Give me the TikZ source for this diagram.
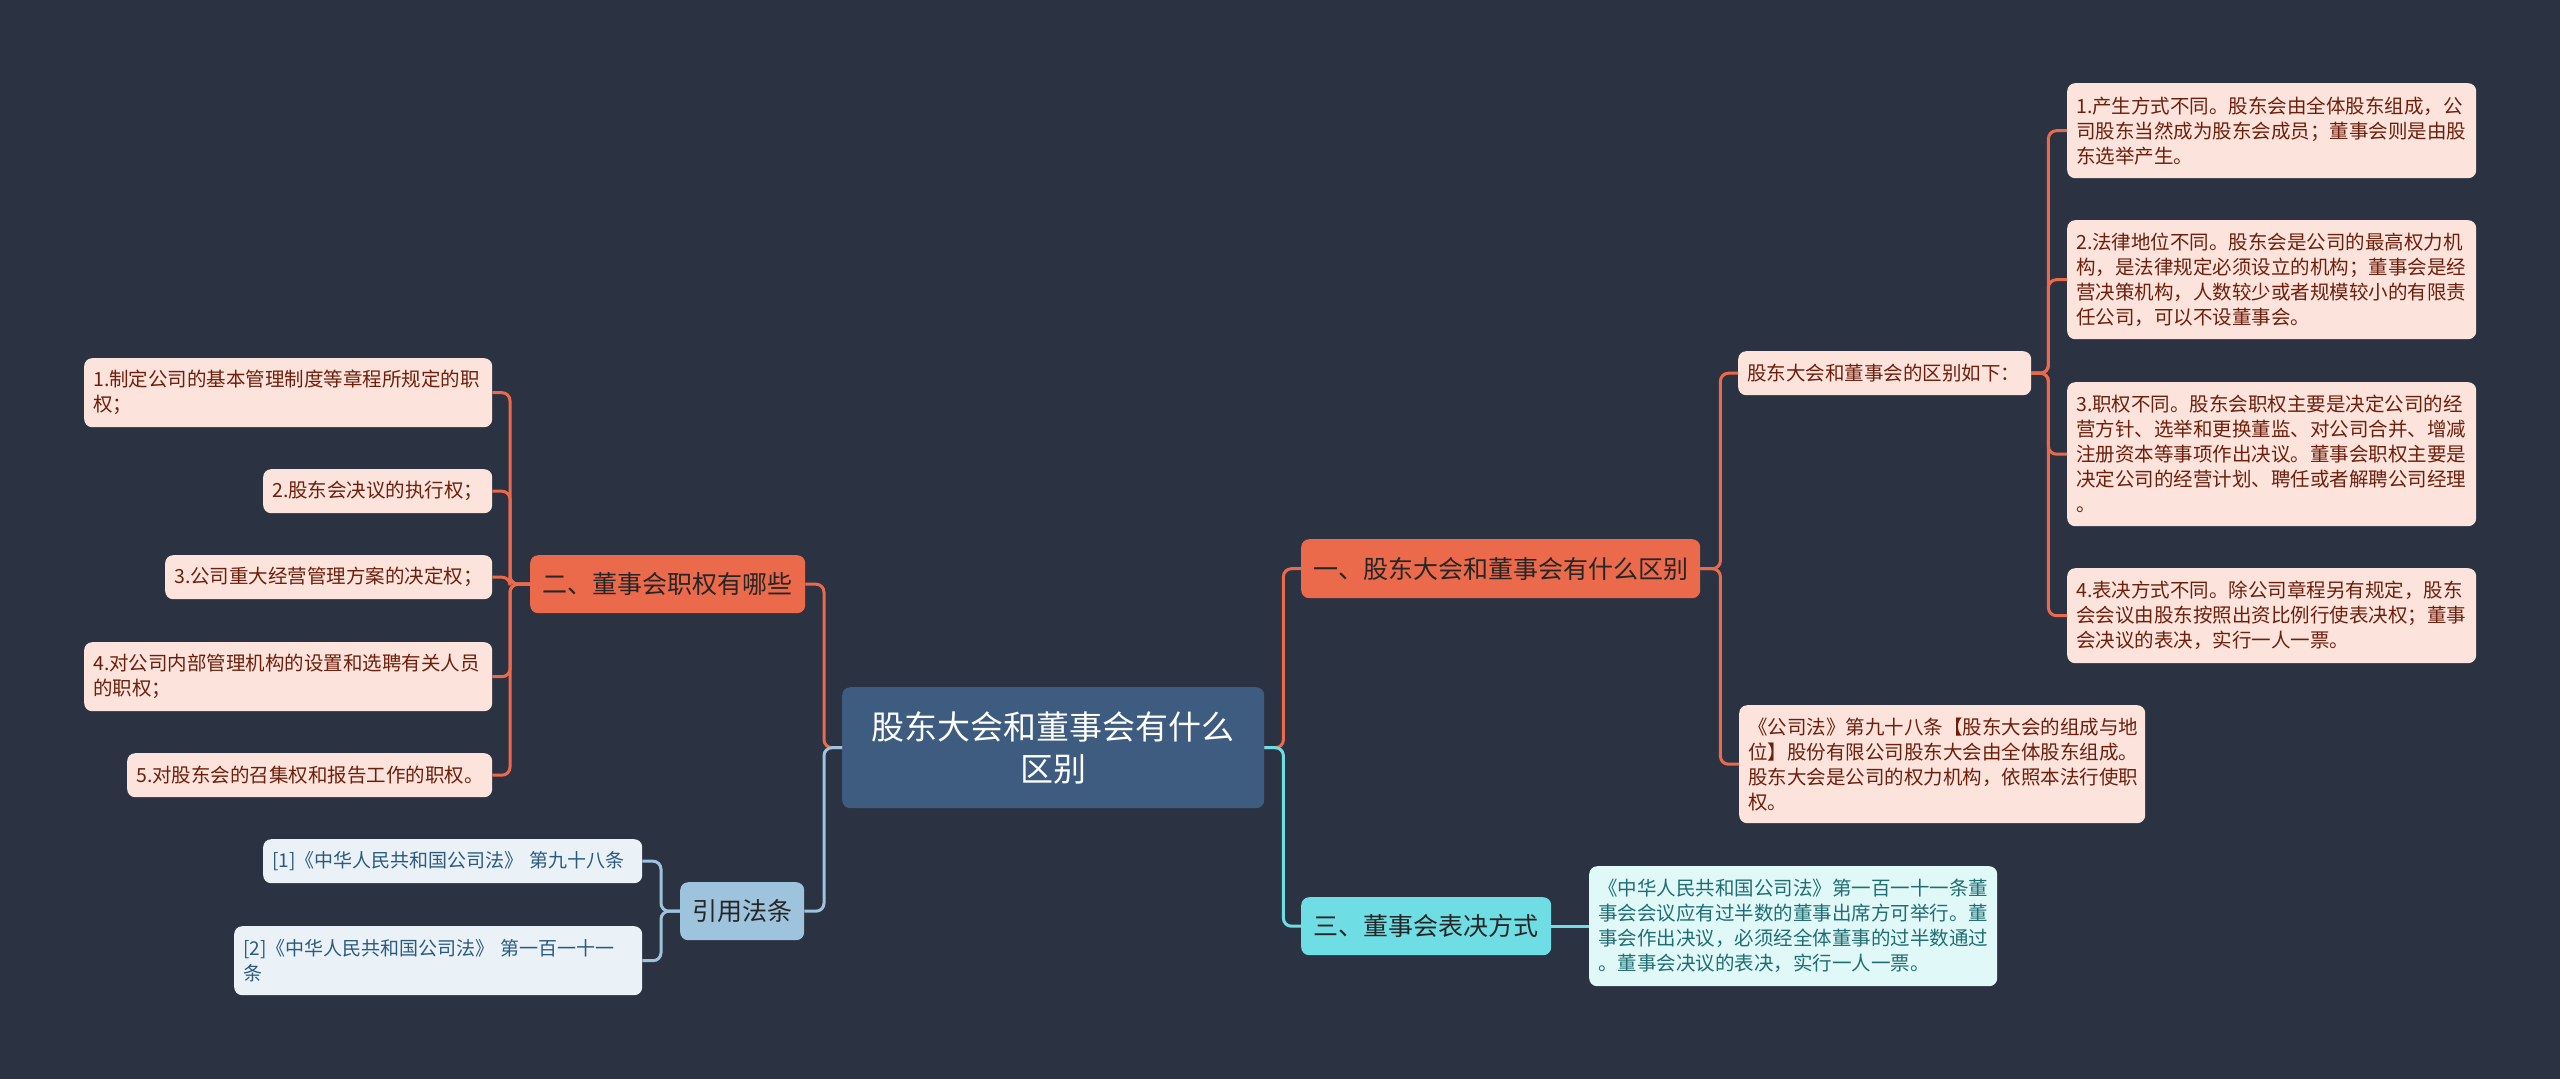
\documentclass[tikz,border=0pt]{standalone}
\usepackage{fontspec}
\setmainfont{Noto Sans CJK SC}
\usepackage{tikz}
\definecolor{bg}{HTML}{2B3242}
\definecolor{rootc}{HTML}{3E5B80}
\definecolor{orange}{HTML}{EC6A4C}
\definecolor{pinkc}{HTML}{FCE4DC}
\definecolor{pinktxt}{HTML}{6E1F0C}
\definecolor{teal}{HTML}{6EDDE4}
\definecolor{tealsoft}{HTML}{E1F8F8}
\definecolor{tealtxt}{HTML}{1E6E72}
\definecolor{sky}{HTML}{9DC3DD}
\definecolor{skysoft}{HTML}{EAF2F8}
\definecolor{skytxt}{HTML}{2B5A7E}

\begin{document}
\begin{tikzpicture}[x=1pt,y=-1pt,
  root/.style={fill=rootc,text=white,rounded corners=8pt,inner sep=0pt,anchor=north west,align=center,font=\fontsize{33}{42}\selectfont},
  topic/.style={fill=orange,text=black!85,rounded corners=8pt,inner sep=0pt,anchor=north west,align=center,font=\fontsize{25}{30}\selectfont},
  item/.style={fill=pinkc,text=pinktxt,rounded corners=8pt,inner xsep=9pt,inner ysep=0pt,anchor=north west,align=left,font=\fontsize{19.5}{25}\selectfont},
  ref/.style={item,fill=skysoft,text=skytxt,font=\fontsize{19}{25}\selectfont},
  link/.style={line width=3pt,rounded corners=8pt,color=orange}]
  \fill[bg] (0,0) rectangle (2560,1079);
  \useasboundingbox (0,0) rectangle (2560,1079);
  \node[root,minimum width=422pt,minimum height=121pt] (root) at (842,687) {股东大会和董事会有什么\\区别};
  \node[topic,minimum width=399pt,minimum height=59pt] (diff) at (1301,539) {一、股东大会和董事会有什么区别};
  \node[topic,minimum width=275pt,minimum height=58pt] (power) at (530,555) {二、董事会职权有哪些};
  \node[topic,fill=teal,minimum width=250pt,minimum height=58pt] (vote) at (1301,897) {三、董事会表决方式};
  \node[topic,fill=sky,minimum width=124pt,minimum height=58pt] (refs) at (680,882) {引用法条};
  \node[item,text width=275pt,minimum height=44pt] (d0) at (1738,351) {股东大会和董事会的区别如下：};
  \node[item,text width=391pt,minimum height=95pt] (d1) at (2067,83) {1.产生方式不同。股东会由全体股东组成，公\\司股东当然成为股东会成员；董事会则是由股\\东选举产生。};
  \node[item,text width=391pt,minimum height=119pt] (d2) at (2067,220) {2.法律地位不同。股东会是公司的最高权力机\\构，是法律规定必须设立的机构；董事会是经\\营决策机构，人数较少或者规模较小的有限责\\任公司，可以不设董事会。};
  \node[item,text width=391pt,minimum height=144pt] (d3) at (2067,382) {3.职权不同。股东会职权主要是决定公司的经\\营方针、选举和更换董监、对公司合并、增减\\注册资本等事项作出决议。董事会职权主要是\\决定公司的经营计划、聘任或者解聘公司经理\\。};
  \node[item,text width=391pt,minimum height=95pt] (d4) at (2067,568) {4.表决方式不同。除公司章程另有规定，股东\\会会议由股东按照出资比例行使表决权；董事\\会决议的表决，实行一人一票。};
  \node[item,text width=388pt,minimum height=118pt] (d5) at (1739,705) {《公司法》第九十八条【股东大会的组成与地\\位】股份有限公司股东大会由全体股东组成。\\股东大会是公司的权力机构，依照本法行使职\\权。};
  \node[item,fill=tealsoft,text=tealtxt,text width=390pt,minimum height=120pt] (v1) at (1589,866) {《中华人民共和国公司法》第一百一十一条董\\事会会议应有过半数的董事出席方可举行。董\\事会作出决议，必须经全体董事的过半数通过\\。董事会决议的表决，实行一人一票。};
  \node[item,text width=390pt,minimum height=69pt] (p1) at (84,358) {1.制定公司的基本管理制度等章程所规定的职\\权；};
  \node[item,text width=211pt,minimum height=44pt] (p2) at (263,469) {2.股东会决议的执行权；};
  \node[item,text width=309pt,minimum height=44pt] (p3) at (165,555) {3.公司重大经营管理方案的决定权；};
  \node[item,text width=390pt,minimum height=69pt] (p4) at (84,642) {4.对公司内部管理机构的设置和选聘有关人员\\的职权；};
  \node[item,text width=347pt,minimum height=44pt] (p5) at (127,753) {5.对股东会的召集权和报告工作的职权。};
  \node[ref,text width=361pt,minimum height=44pt] (r1) at (263,839) {\mbox{[1]《中华人民共和国公司法》 第九十八条}};
  \node[ref,text width=390pt,minimum height=69pt] (r2) at (234,926) {[2]《中华人民共和国公司法》 第一百一十一\\条};
  \draw[link] (root.east) -- ++(19,0) |- (diff.west);
  \draw[link,color=teal] (root.east) -- ++(19,0) |- (vote.west);
  \draw[link] (root.west) -- ++(-18,0) |- (power.east);
  \draw[link,color=sky] (root.west) -- ++(-18,0) |- (refs.east);
  \draw[link] (diff.east) -- ++(20,0) |- (d0.west);
  \draw[link] (diff.east) -- ++(20,0) |- (d5.west);
  \foreach \n in {d1,d2,d3,d4} \draw[link] (d0.east) -- ++(17,0) |- (\n.west);
  \foreach \n in {p1,p2,p3,p4,p5} \draw[link] (power.west) -- ++(-20,0) |- (\n.east);
  \foreach \n in {r1,r2} \draw[link,color=sky] (refs.west) -- ++(-19,0) |- (\n.east);
  \draw[link,color=teal] (vote.east) -- (v1.west);
\end{tikzpicture}
\end{document}
